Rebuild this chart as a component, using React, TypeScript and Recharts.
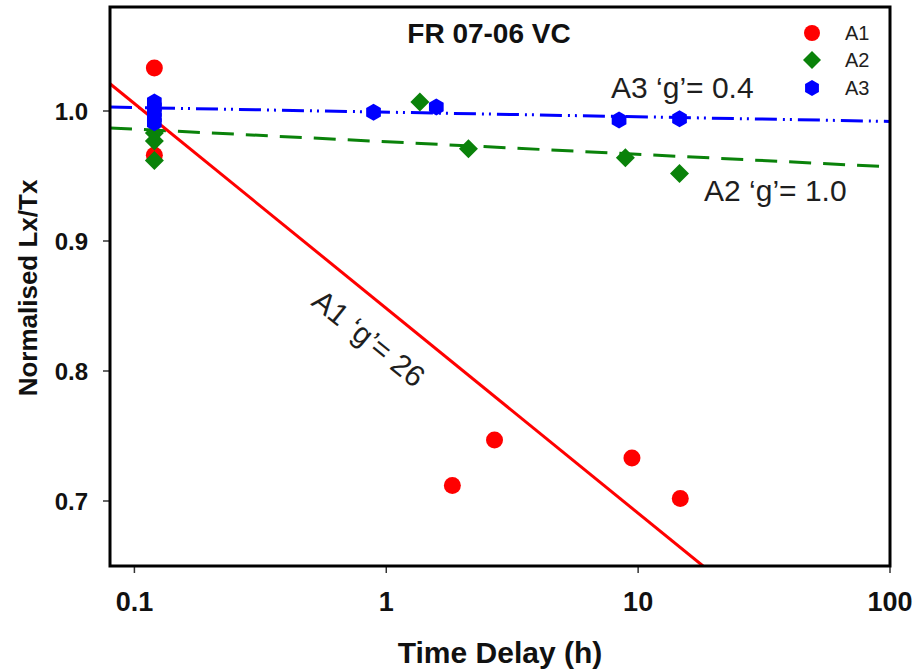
import React from "react";
import { ScatterChart, Scatter, XAxis, YAxis } from "recharts";

// measured points (time delay in hours, normalised Lx/Tx)
const a1Time = [0.12, 0.12, 1.83, 2.69, 9.45, 14.7];
const a1Ratio = [1.033, 0.966, 0.712, 0.747, 0.733, 0.702];

const a2Time = [0.12, 0.12, 0.12, 1.36, 2.12, 8.9, 14.6];
const a2Ratio = [0.983, 0.977, 0.962, 1.007, 0.971, 0.964, 0.952];

const a3Time = [0.12, 0.12, 0.12, 0.12, 0.12, 0.89, 1.58, 8.4, 14.6];
const a3Ratio = [1.007, 1.003, 0.999, 0.995, 0.991, 0.999, 1.003, 0.993, 0.994];

// fitted fading lines, end points
const a1FitTime = [0.08, 18.1];
const a1FitRatio = [1.021, 0.65];
const a2FitTime = [0.08, 100];
const a2FitRatio = [0.987, 0.957];
const a3FitTime = [0.08, 100];
const a3FitRatio = [1.003, 0.992];

const xTicks = [0.1, 1, 10, 100];
const yTicks = [0.7, 0.8, 0.9, 1.0];

const RED = "#ff0000";
const GREEN = "#0a820a";
const BLUE = "#0000ff";
const INK = "#1e1e1e";

const pts = (xs: number[], ys: number[]) => xs.map((x, i) => ({ x, y: ys[i] }));

const Circle = ({ cx, cy }: any) => <circle cx={cx} cy={cy} r={8.5} fill={RED} />;

const Diamond = ({ cx, cy }: any) => (
  <polygon
    points={`${cx},${cy - 9.5} ${cx + 9.5},${cy} ${cx},${cy + 9.5} ${cx - 9.5},${cy}`}
    fill={GREEN}
  />
);

const hexPoints = (cx: number, cy: number, r: number) =>
  [0, 1, 2, 3, 4, 5]
    .map((k) => {
      const a = Math.PI / 2 + (k * Math.PI) / 3;
      return `${cx + r * Math.cos(a)},${cy + r * Math.sin(a)}`;
    })
    .join(" ");

const Hexagon = ({ cx, cy }: any) => <polygon points={hexPoints(cx, cy, 8.5)} fill={BLUE} />;

const NoDot = () => null;

const App = () => {
  return (
    <div style={{ position: "absolute", left: 0, top: 0, width: 917, height: 672, background: "#fff" }}>
      <ScatterChart width={917} height={672} margin={{ top: 7, right: 27, left: 0, bottom: 0 }}>
        <XAxis
          type="number"
          dataKey="x"
          scale="log"
          domain={[0.08, 100]}
          allowDataOverflow
          ticks={xTicks}
          height={106}
          axisLine={false}
          tickLine={{ stroke: "#333", strokeWidth: 1.5 }}
          tickSize={7}
          tickMargin={19}
          tick={{ fill: "#111", fontSize: 27, fontWeight: 700, fontFamily: "Liberation Sans, Arial" }}
        />
        <YAxis
          type="number"
          dataKey="y"
          domain={[0.65, 1.08]}
          allowDataOverflow
          ticks={yTicks}
          width={110}
          axisLine={false}
          tickLine={{ stroke: "#333", strokeWidth: 1.5 }}
          tickSize={7}
          tickMargin={15}
          tickFormatter={(v: number) => v.toFixed(1)}
          tick={{ fill: "#111", fontSize: 24, fontWeight: 700, fontFamily: "Liberation Sans, Arial" }}
        />

        {/* fit lines first so the markers sit on top */}
        <Scatter
          data={pts(a3FitTime, a3FitRatio)}
          shape={NoDot}
          line={{ stroke: BLUE, strokeWidth: 3, strokeDasharray: "22 6 2 5 2 6" }}
          isAnimationActive={false}
        />
        <Scatter
          data={pts(a2FitTime, a2FitRatio)}
          shape={NoDot}
          line={{ stroke: GREEN, strokeWidth: 3, strokeDasharray: "22 12" }}
          isAnimationActive={false}
        />
        <Scatter
          data={pts(a1FitTime, a1FitRatio)}
          shape={NoDot}
          line={{ stroke: RED, strokeWidth: 3 }}
          isAnimationActive={false}
        />

        <Scatter name="A1" data={pts(a1Time, a1Ratio)} shape={Circle} isAnimationActive={false} />
        <Scatter name="A2" data={pts(a2Time, a2Ratio)} shape={Diamond} isAnimationActive={false} />
        <Scatter name="A3" data={pts(a3Time, a3Ratio)} shape={Hexagon} isAnimationActive={false} />
      </ScatterChart>

      <svg
        width={917}
        height={672}
        style={{ position: "absolute", left: 0, top: 0, pointerEvents: "none" }}
        fontFamily="Liberation Sans, Arial, sans-serif"
      >
        {/* plot box */}
        <rect x={110} y={7} width={780} height={559} fill="none" stroke="#000" strokeWidth={3} />

        <text x={489} y={43} textAnchor="middle" fontSize={28} fontWeight={700} fill="#111">
          FR 07-06 VC
        </text>

        {/* legend */}
        <circle cx={812} cy={33} r={8} fill={RED} />
        <polygon points="812,51 821,60 812,69 803,60" fill={GREEN} />
        <polygon points={hexPoints(812, 88, 8)} fill={BLUE} />
        <text x={845} y={40} fontSize={20} fill={INK}>A1</text>
        <text x={845} y={67} fontSize={20} fill={INK}>A2</text>
        <text x={845} y={95} fontSize={20} fill={INK}>A3</text>

        {/* fit annotations */}
        <text x={611} y={98} fontSize={30} fill={INK}>A3 ‘g’= 0.4</text>
        <text x={704} y={201} fontSize={30} fill={INK}>A2 ‘g’= 1.0</text>
        <text
          x={369}
          y={338}
          dy="0.36em"
          textAnchor="middle"
          fontSize={30}
          fill={INK}
          transform="rotate(39 369 338)"
        >
          A1 ‘g’= 26
        </text>

        {/* axis titles */}
        <text x={500} y={663} textAnchor="middle" fontSize={30} fontWeight={700} fill="#111">
          Time Delay (h)
        </text>
        <text
          x={28}
          y={288}
          dy="0.36em"
          textAnchor="middle"
          fontSize={26}
          fontWeight={700}
          fill="#111"
          transform="rotate(-90 28 288)"
        >
          Normalised Lx/Tx
        </text>
      </svg>
    </div>
  );
};

export default App;
